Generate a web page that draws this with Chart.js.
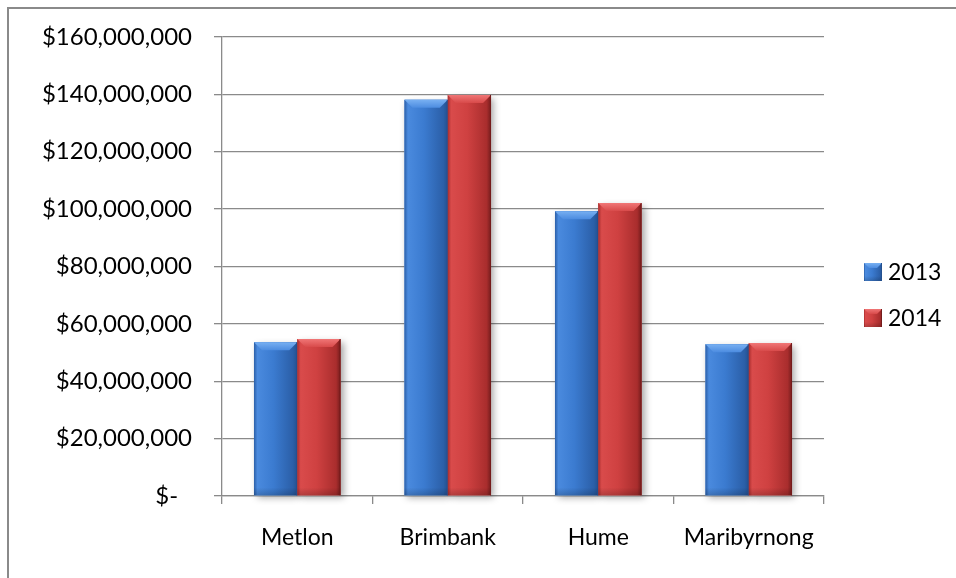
<!DOCTYPE html>
<html>
<head>
<meta charset="utf-8">
<script src="https://cdn.jsdelivr.net/npm/chart.js@4"></script>
<style>
  html, body { margin: 0; padding: 0; background: #fff; }
  #wrap  { position: relative; width: 956px; height: 578px; overflow: hidden; }
  #frame { position: absolute; left: 7px; top: 7px; width: 1000px; height: 700px;
           border-left: 2px solid #8a8a8a; border-top: 2px solid #8a8a8a; }
  canvas { position: absolute; left: 0; top: 0; }
</style>
</head>
<body>
<div id="wrap">
  <div id="frame"></div>
  <canvas id="chart" width="956" height="578"></canvas>
</div>
<script>
'use strict';

// ---------------------------------------------------------------------------
// Data
// ---------------------------------------------------------------------------

const categories = ['Metlon', 'Brimbank', 'Hume', 'Maribyrnong'];
const seriesNames = ['2013', '2014'];
const values2013 = [53600000, 138100000, 99300000, 52900000];
const values2014 = [54700000, 139800000, 102100000, 53300000];
const yTicks = [0, 20000000, 40000000, 60000000, 80000000, 100000000, 120000000, 140000000, 160000000];

// ---------------------------------------------------------------------------
// Styling helpers
// ---------------------------------------------------------------------------

const FONT = 'Lato, "Open Sans", sans-serif';

const PALETTE = {
  blue: { mid: '#3b7bd0', light: '#4a8ade', dark: '#2b5fa8', edge: '#24508f', top: '#78b0f2', top2: '#4c8ce0' },
  red:  { mid: '#cf4141', light: '#d94b4b', dark: '#a92d2d', edge: '#741c1c', top: '#f07676', top2: '#d84a4a' },
};

function money(v) {
  if (v === 0) return '$-\u2007';
  return '$' + v.toLocaleString('en-US');
}

function shadeBar(ctx, x0, y0, x1, y1, pal, bevel) {
  const w = x1 - x0;
  const b = Math.min(bevel, w / 2, (y1 - y0) / 2);

  // body, horizontal gradient
  const g = ctx.createLinearGradient(x0, 0, x1, 0);
  g.addColorStop(0,    pal.dark);
  g.addColorStop(0.08, pal.light);
  g.addColorStop(0.45, pal.mid);
  g.addColorStop(0.9,  pal.dark);
  g.addColorStop(1,    pal.edge);
  ctx.fillStyle = g;
  ctx.fillRect(x0, y0, w, y1 - y0);

  // top bevel
  const tg = ctx.createLinearGradient(0, y0, 0, y0 + b);
  tg.addColorStop(0, pal.top);
  tg.addColorStop(1, pal.top2);
  ctx.fillStyle = tg;
  ctx.beginPath();
  ctx.moveTo(x0, y0);
  ctx.lineTo(x1, y0);
  ctx.lineTo(x1 - b, y0 + b);
  ctx.lineTo(x0 + b, y0 + b);
  ctx.closePath();
  ctx.fill();

  // bottom darkening
  const bg = ctx.createLinearGradient(0, y1 - b, 0, y1);
  bg.addColorStop(0, 'rgba(0,0,0,0)');
  bg.addColorStop(1, 'rgba(0,0,0,0.18)');
  ctx.fillStyle = bg;
  ctx.fillRect(x0, y1 - b, w, b);

  // thin outline on right edge
  ctx.fillStyle = pal.edge;
  ctx.fillRect(x1 - 1, y0, 1, y1 - y0);
}

function barBox(el) {
  const half = el.width / 2;
  return { x0: el.x - half, x1: el.x + half, y0: Math.min(el.y, el.base), y1: Math.max(el.y, el.base) };
}

// Shadow under the bars, then the bevelled shading on top
const bevelPlugin = {
  id: 'bevel',
  beforeDatasetsDraw(chart) {
    const ctx = chart.ctx;
    ctx.save();
    ctx.shadowColor = 'rgba(0,0,0,0.35)';
    ctx.shadowBlur = 7;
    ctx.shadowOffsetX = 3;
    ctx.shadowOffsetY = 3;
    ctx.fillStyle = '#fff';
    chart.data.datasets.forEach((ds, i) => {
      chart.getDatasetMeta(i).data.forEach(el => {
        const r = barBox(el);
        ctx.fillRect(r.x0, r.y0, r.x1 - r.x0, r.y1 - r.y0);
      });
    });
    ctx.restore();
  },
  afterDatasetsDraw(chart) {
    const ctx = chart.ctx;
    ctx.save();
    chart.data.datasets.forEach((ds, i) => {
      chart.getDatasetMeta(i).data.forEach(el => {
        const r = barBox(el);
        shadeBar(ctx, r.x0, r.y0, r.x1, r.y1, PALETTE[ds.palette], 8);
      });
    });
    ctx.restore();
  },
};

// Legend on the right, drawn from the dataset labels
const legendPlugin = {
  id: 'sideLegend',
  afterDraw(chart) {
    const ctx = chart.ctx;
    const x = 864;
    const rowY = [272, 318];
    ctx.save();
    ctx.font = `23px ${FONT}`;
    ctx.textBaseline = 'middle';
    ctx.textAlign = 'left';
    chart.data.datasets.forEach((ds, i) => {
      const y = rowY[i];
      shadeBar(ctx, x, y - 9, x + 18, y + 9, PALETTE[ds.palette], 5);
      ctx.fillStyle = '#000';
      ctx.fillText(ds.label, x + 24, y + 1);
    });
    ctx.restore();
  },
};

// ---------------------------------------------------------------------------
// Chart
// ---------------------------------------------------------------------------

const ctx = document.getElementById('chart').getContext('2d');

new Chart(ctx, {
  type: 'bar',
  data: {
    labels: categories,
    datasets: [
      { label: seriesNames[0], data: values2013, backgroundColor: PALETTE.blue.mid, palette: 'blue',
        categoryPercentage: 0.575, barPercentage: 1.0 },
      { label: seriesNames[1], data: values2014, backgroundColor: PALETTE.red.mid, palette: 'red',
        categoryPercentage: 0.575, barPercentage: 1.0 },
    ],
  },
  options: {
    responsive: false,
    animation: false,
    devicePixelRatio: 1,
    layout: { padding: { top: 37, right: 132, bottom: 0, left: 0 } },
    plugins: {
      legend:  { display: false },
      tooltip: { enabled: false },
    },
    scales: {
      x: {
        grid:   { drawOnChartArea: false, color: '#8a8a8a', lineWidth: 1.3, tickLength: 8, offset: true },
        border: { color: '#8a8a8a', width: 1.3 },
        ticks:  { color: '#000', font: { family: FONT, size: 23 }, padding: 20, maxRotation: 0 },
        afterFit: s => { s.height = 82; },
      },
      y: {
        min: 0,
        max: 160000000,
        afterBuildTicks: s => { s.ticks = yTicks.map(v => ({ value: v })); },
        grid:   { color: '#8a8a8a', lineWidth: 1.3, tickLength: 8 },
        border: { color: '#8a8a8a', width: 1.3 },
        ticks:  { color: '#000', font: { family: FONT, size: 24 }, padding: 22, callback: v => money(v) },
        afterFit: s => { s.width = 222; },
      },
    },
  },
  plugins: [bevelPlugin, legendPlugin],
});
</script>
</body>
</html>
